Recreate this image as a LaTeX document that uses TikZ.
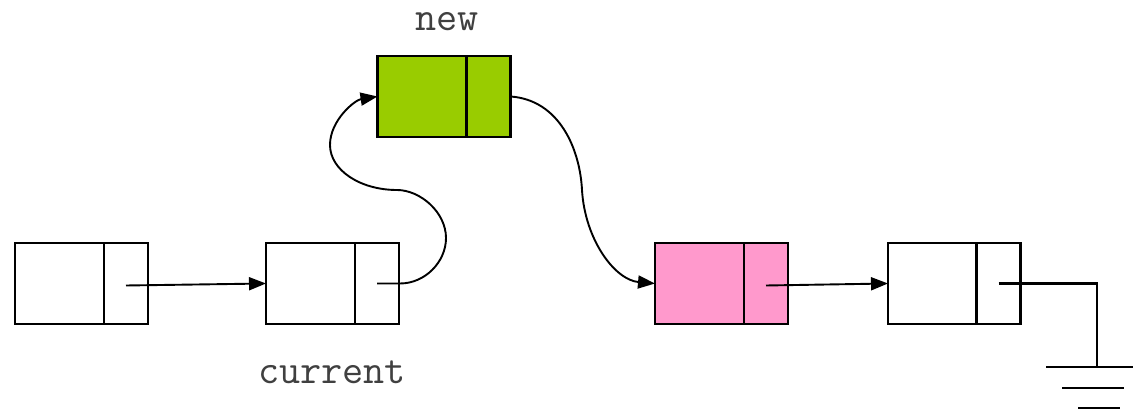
\documentclass[tikz,border=0pt]{standalone}
\usetikzlibrary{arrows.meta}
\definecolor{newgreen}{HTML}{99CC00}
\definecolor{curpink}{HTML}{FF99CC}
\definecolor{labelgray}{HTML}{404040}
\tikzset{
  cellbox/.style={draw, line width=2.4pt, rectangle, inner sep=0pt, outer sep=0pt, minimum width=133pt, minimum height=81pt},
  ptrcell/.style={draw, line width=2.4pt, rectangle, inner sep=0pt, outer sep=0pt, minimum width=44pt, minimum height=81pt},
  link/.style={line width=1.9pt, -{Triangle[length=17pt,width=13pt]}},
  wire/.style={line width=2.2pt},
  lbl/.style={text=labelgray, font=\ttfamily\fontsize{41}{41}\selectfont, inner sep=0pt}
}
\begin{document}
\begin{tikzpicture}[x=1pt,y=-1pt]
\useasboundingbox (0,0) rectangle (1133,411);
% boxes
\node[cellbox] (A) at (81.5,283.5) {};
\node[ptrcell] (Ap) at (126,283.5) {};
\node[cellbox] (B) at (332.5,283.5) {};
\node[ptrcell] (Bp) at (377,283.5) {};
\node[cellbox, fill=newgreen] (G) at (444,96.5) {};
\node[ptrcell] (Gp) at (488.5,96.5) {};
\node[cellbox, fill=curpink] (P) at (721.5,283.5) {};
\node[ptrcell] (Pp) at (766,283.5) {};
\node[cellbox] (E) at (954.5,283.5) {};
\node[ptrcell] (Ep) at (998.5,283.5) {};
% labels
\node[lbl] (newlbl) at (447,22) {new};
\node[lbl] (curlbl) at (332,372) {current};
% connectors
\draw[link] ([yshift=-2pt]Ap.center) -- (B.west);
\draw[link] ([yshift=-2pt]Pp.center) -- (E.west);
\draw[link] (Bp.center) -- (400,283.5) .. controls (425,283.5) and (446,262) .. (446,238)
  .. controls (446,212) and (420,190) .. (397,190)
  .. controls (360,190) and (330,170) .. (330,145)
  .. controls (330,120) and (355,100) .. (G.west);
\draw[link] (G.east) .. controls (560,100) and (580,150) .. (582,190)
  .. controls (585,240) and (615,280) .. (P.west);
% ground
\coordinate (gr) at (1097,367);
\draw[wire] (Ep.center) -| (gr);
\draw[wire] (1046,367) -- (1133,367);
\draw[wire] (1062,388) -- (1124,388);
\draw[wire] (1078,408) -- (1120,408);
\end{tikzpicture}
\end{document}
